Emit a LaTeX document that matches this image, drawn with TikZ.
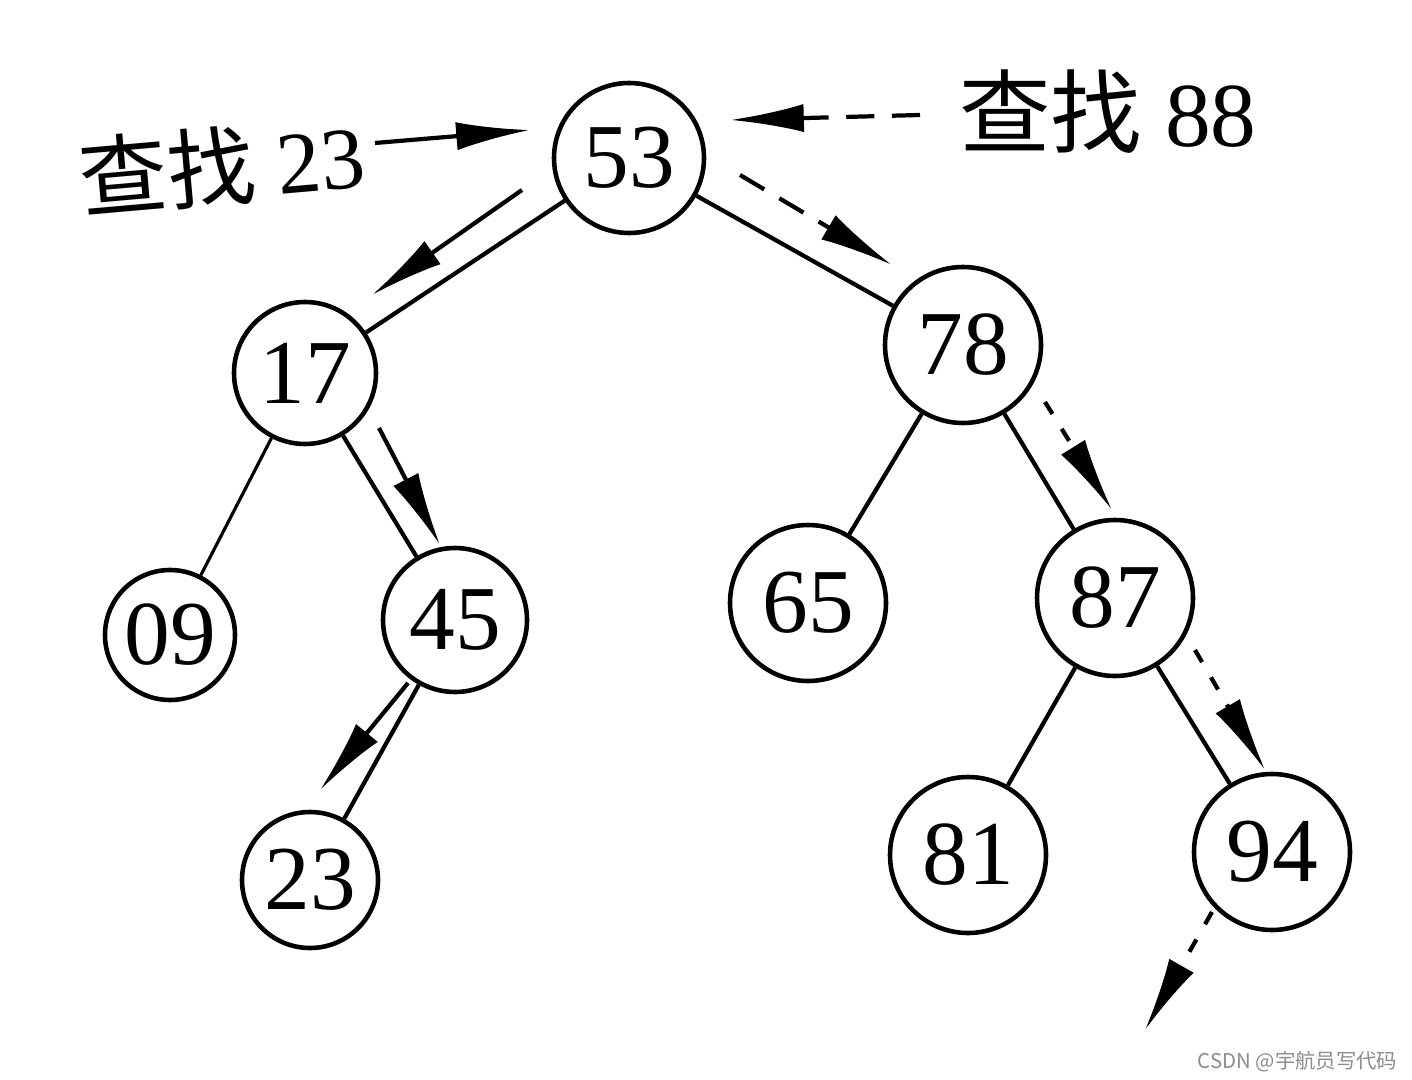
\documentclass[tikz,border=0pt]{standalone}
\usepackage{fontspec}
\setmainfont{Liberation Serif}
\newfontfamily\cjk{Noto Sans CJK SC}
\usetikzlibrary{arrows.meta}
\begin{document}
\begin{tikzpicture}[
  tnode/.style={circle, draw, line width=1.3pt, minimum size=#1, inner sep=0pt,
                font=\fontsize{26}{28}\selectfont},
  tnode/.default=1.5cm,
  edge/.style={line width=1.2pt},
  walk/.style={line width=1.2pt, -{Latex[length=21pt,width=8pt]}},
  dashwalk/.style={walk, dash pattern=on 8pt off 5pt},
  dotwalk/.style={walk, dash pattern=on 4pt off 5pt},
  lbl/.style={font=\fontsize{25}{28}\selectfont, inner sep=0pt},
  wmark/.style={font=\cjk\fontsize{5.8}{7}\selectfont, text=black!45, inner sep=0pt}
]
\useasboundingbox (0,0) rectangle (14.12,-10.80);

% tree nodes
\node[tnode=1.50cm] (n53) at (6.29,-1.58) {53};
\node[tnode=1.42cm] (n17) at (3.05,-3.73) {17};
\node[tnode=1.56cm] (n78) at (9.63,-3.45) {78};
\node[tnode=1.30cm] (n09) at (1.70,-6.35) {09};
\node[tnode=1.44cm] (n45) at (4.55,-6.20) {45};
\node[tnode=1.56cm] (n65) at (8.08,-6.03) {65};
\node[tnode=1.56cm] (n87) at (11.15,-5.98) {87};
\node[tnode=1.36cm] (n23) at (3.10,-8.80) {23};
\node[tnode=1.56cm] (n81) at (9.68,-8.55) {81};
\node[tnode=1.56cm] (n94) at (12.72,-8.52) {94};

% tree edges
\draw[edge] (n53) -- (n17);
\draw[edge] (n53) -- (n78);
\draw[edge, line width=0.9pt] (n17) -- (n09);
\draw[edge] (n17) -- (n45);
\draw[edge] (n45) -- (n23);
\draw[edge] (n78) -- (n65);
\draw[edge] (n78) -- (n87);
\draw[edge] (n87) -- (n81);
\draw[edge] (n87) -- (n94);

% labels
\node[lbl, rotate=5] (q23) at (2.22,-1.66) {{\cjk 查找} 23};
\node[lbl, font=\fontsize{26}{28}\selectfont] (q88) at (11.08,-1.12) {{\cjk 查找} 88};

% search path for 23 (solid)
\coordinate (s0) at (3.75,-1.43);
\coordinate (s1) at (5.30,-1.30);
\draw[walk] (s0) -- (s1);
\coordinate (a1s) at (5.22,-1.90);
\coordinate (a1e) at (3.72,-2.95);
\draw[walk] (a1s) -- (a1e);
\coordinate (a2s) at (3.79,-4.28);
\coordinate (a2e) at (4.40,-5.45);
\draw[walk] (a2s) -- (a2e);
\coordinate (a3s) at (4.08,-6.83);
\coordinate (a3e) at (3.20,-7.90);
\draw[walk] (a3s) -- (a3e);

% search path for 88 (dashed)
\coordinate (d0) at (9.20,-1.15);
\coordinate (d1) at (7.30,-1.20);
\draw[dashwalk] (d0) -- (d1);
\coordinate (b1s) at (7.40,-1.75);
\coordinate (b1e) at (8.92,-2.65);
\draw[dashwalk] (b1s) -- (b1e);
\coordinate (b2s) at (10.45,-4.02);
\coordinate (b2e) at (11.12,-5.10);
\draw[dotwalk] (b2s) -- (b2e);
\coordinate (b3s) at (11.95,-6.50);
\coordinate (b3e) at (12.65,-7.70);
\draw[dotwalk] (b3s) -- (b3e);
\coordinate (b4s) at (12.12,-9.12);
\coordinate (b4e) at (11.45,-10.30);
\draw[dotwalk] (b4s) -- (b4e);

% watermark
\node[wmark, anchor=east] (wm) at (13.98,-10.62) {CSDN @宇航员写代码};
\end{tikzpicture}
\end{document}
